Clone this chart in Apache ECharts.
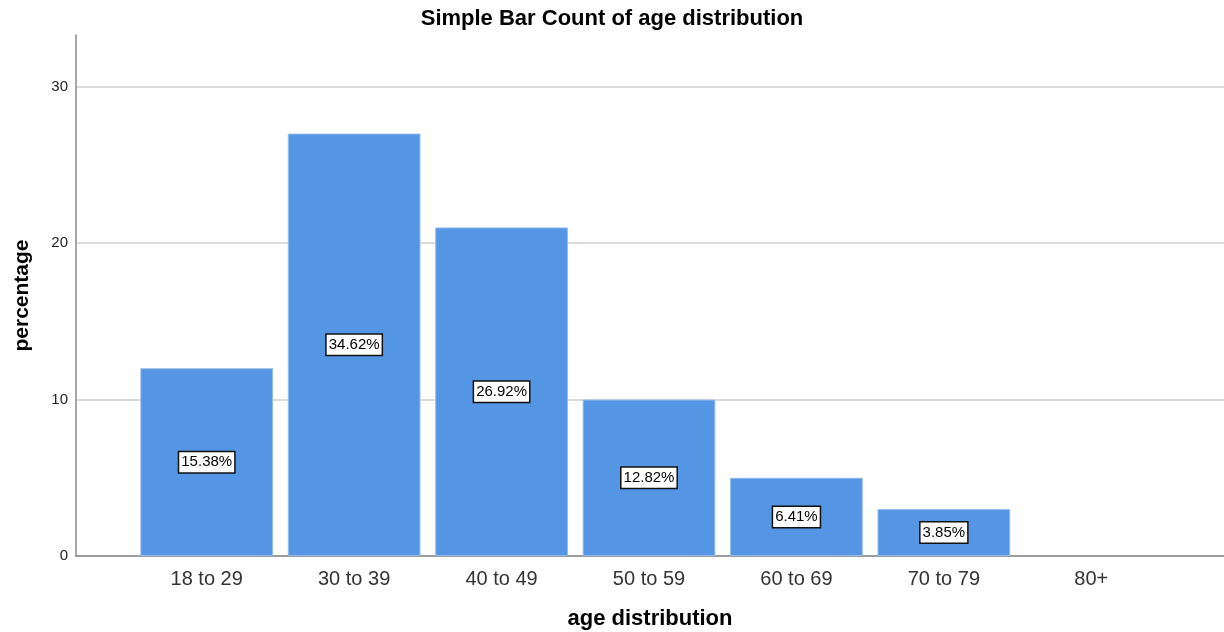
<!DOCTYPE html>
<html>
<head>
<meta charset="utf-8">
<script src="https://cdn.jsdelivr.net/npm/echarts@6/dist/echarts.min.js"></script>
<style>
    html, body { margin: 0; padding: 0; background: #fff; }
    #chart { width: 1224px; height: 632px; }
</style>
</head>
<body>
<div id="chart"></div>
<script>
var categories = ["18 to 29", "30 to 39", "40 to 49", "50 to 59", "60 to 69", "70 to 79", "80+"];
var counts = [12, 27, 21, 10, 5, 3, 0];
var percentLabels = ["15.38%", "34.62%", "26.92%", "12.82%", "6.41%", "3.85%", ""];
var yTicks = [0, 10, 20, 30];
var yMax = 33.3;

var font = "Liberation Sans, Arial, sans-serif";
var myChart = echarts.init(document.getElementById("chart"));

// empty categories get no border and no label box
var barData = counts.map(function (c, i) {
    if (c === 0) {
        return { value: c, itemStyle: { borderWidth: 0 }, label: { show: false } };
    }
    return c;
});

var option = {
    animation: false,
    backgroundColor: '#fff',
    textStyle: { fontFamily: font },
    title: {
        text: 'Simple Bar Count of age distribution',
        left: 'center',
        top: 3,
        textStyle: { fontSize: 22, fontWeight: 'bold', color: '#000', fontFamily: font }
    },
    grid: [
        // frame grid: y axis, gridlines, full-width x axis line
        { left: 76, right: 0, top: 35, bottom: 76, outerBoundsMode: 'none', containLabel: false },
        // category grid: bars sit inside narrower band area
        { left: 133, width: 1032, top: 35, bottom: 76, outerBoundsMode: 'none', containLabel: false }
    ],
    xAxis: [{
        gridIndex: 0,
        type: 'value',
        min: 0,
        max: 1,
        axisLine: { show: true, lineStyle: { color: '#888', width: 1.5 } },
        axisTick: { show: false },
        axisLabel: { show: false },
        splitLine: { show: false },
        name: 'age distribution',
        nameLocation: 'middle',
        nameGap: 52,
        nameTextStyle: { fontSize: 22, fontWeight: 'bold', color: '#000', fontFamily: font }
    }, {
        gridIndex: 1,
        type: 'category',
        data: categories,
        axisLine: { show: false },
        axisTick: { show: false },
        axisLabel: { fontSize: 20, color: '#333', margin: 13, fontFamily: font }
    }],
    yAxis: [{
        gridIndex: 0,
        type: 'value',
        min: 0,
        max: yMax,
        interval: 10,
        axisLine: { show: true, lineStyle: { color: '#888', width: 1.5 } },
        axisTick: { show: false },
        axisLabel: {
            fontSize: 15,
            color: '#222',
            margin: 8,
            fontFamily: font,
            formatter: function (v) {
                return yTicks.indexOf(v) >= 0 ? String(v) : '';
            }
        },
        splitLine: {
            show: true,
            lineStyle: { color: ['#cfcfcf', '#cfcfcf', '#cfcfcf', '#cfcfcf', 'rgba(0,0,0,0)'], width: 1.5 }
        },
        name: 'percentage',
        nameLocation: 'middle',
        nameGap: 43,
        nameTextStyle: { fontSize: 21, fontWeight: 'bold', color: '#000', fontFamily: font }
    }, {
        gridIndex: 1,
        type: 'value',
        min: 0,
        max: yMax,
        show: false
    }],
    series: [{
        type: 'bar',
        xAxisIndex: 1,
        yAxisIndex: 1,
        data: barData,
        barCategoryGap: '10%',
        itemStyle: {
            color: '#5495e4',
            borderColor: '#93bbec',
            borderWidth: 1
        },
        label: {
            show: true,
            position: 'inside',
            formatter: function (p) {
                return percentLabels[p.dataIndex];
            },
            fontSize: 15,
            color: '#000',
            fontFamily: font,
            backgroundColor: '#fff',
            borderColor: '#111',
            borderWidth: 1.5,
            padding: [3, 2, 2, 2]
        }
    }]
};

myChart.setOption(option);
</script>
</body>
</html>
